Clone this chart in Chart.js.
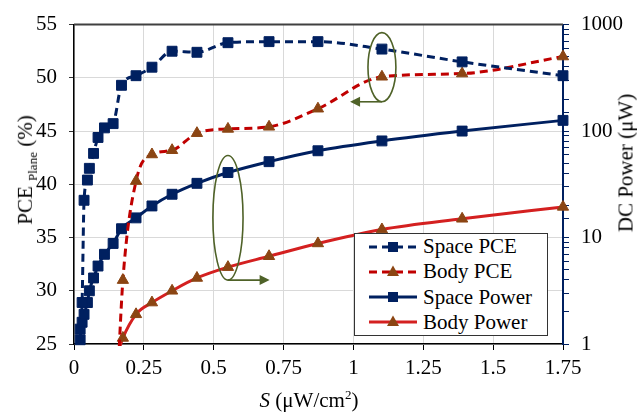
<!DOCTYPE html>
<html lang="en">
<head>
<meta charset="UTF-8">
<title>PCE and DC power versus S</title>
<script src="https://cdn.jsdelivr.net/npm/chart.js"></script>
<style>
  body { margin: 0; background: #fff; }
  .wrap { position: relative; width: 637px; height: 412px; font-family: "Liberation Serif", "Times New Roman", serif; color: #000; }
  canvas { position: absolute; left: 0; top: 0; }
  .title { position: absolute; white-space: nowrap; font-size: 21px; line-height: 1; }
  .rot { transform: translate(-50%, -50%) rotate(-90deg); }
  .legend { position: absolute; left: 354px; top: 233px; width: 192px; height: 101px; border: 1px solid #333; background: #fff; }
  .row { height: 25.25px; display: flex; align-items: center; font-size: 21px; }
  .row svg { margin-left: 14px; margin-right: 6px; }
</style>
</head>
<body>
<div class="wrap">
  <canvas id="myChart" width="637" height="412"></canvas>
  <div class="title rot" style="left:27px; top:170px;">PCE <sub style="font-size:13px">Plane</sub> (%)</div>
  <div class="title rot" style="left:626px; top:163px;">DC Power (μW)</div>
  <div class="title" style="left:309px; top:399px; transform:translate(-50%,-50%);"><i>S</i> (μW/cm<sup style="font-size:13px">2</sup>)</div>
  <div class="legend" id="legend"></div>
</div>

<script>
// S values (µW/cm2)
const sSpace = [0.022, 0.029, 0.036, 0.048, 0.055, 0.070, 0.086, 0.109, 0.140, 0.170, 0.222, 0.279, 0.351, 0.440, 0.551, 0.698, 0.873, 1.102, 1.389, 1.750]
const sBody = [0.155, 0.175, 0.222, 0.279, 0.351, 0.440, 0.551, 0.698, 0.873, 1.102, 1.389, 1.750]

// PCE (%) - left axis
const spacePce = [25.4, 28.9, 38.5, 40.4, 41.5, 42.9, 44.4, 45.3, 45.7, 49.3, 50.2, 51.0, 52.5, 52.4, 53.3, 53.4, 53.4, 52.7, 51.5, 50.2]
const bodyPce = [21.0, 31.0, 40.3, 42.8, 43.2, 44.8, 45.2, 45.4, 47.1, 50.1, 50.4, 52.0]

// DC power (µW) - right axis, log
const spacePower = [1.38, 1.6, 1.9, 2.45, 3.16, 4.17, 5.4, 6.96, 8.8, 12.1, 15.3, 19.8, 25.5, 32.3, 40.8, 51.6, 65.3, 80.8, 100, 126]
const bodyPower = [0.8, 1.14, 1.9, 2.45, 3.16, 4.17, 5.27, 6.67, 8.8, 11.9, 15.0, 19.4]

const powerLabels = [1, 10, 100, 1000]

const NAVY = '#002060'
const RED_DASH = '#C00000'
const RED = '#D42020'
const BROWN = '#8B4513'
const GREEN = '#4F6228'
const FONT = { family: '"Liberation Serif", "Times New Roman", serif', size: 21 }

const pts = (xs, ys) => xs.map((x, i) => ({ x: x, y: ys[i] }))

const common = {
    showLine: true,
    borderWidth: 3,
    cubicInterpolationMode: 'monotone',
    clip: { left: 10, right: 10, top: 10, bottom: 2 }
}

const datasets = [
    { ...common, label: 'Space PCE', data: pts(sSpace, spacePce), yAxisID: 'y',
      borderColor: NAVY, borderDash: [8, 5], pointStyle: 'rect', pointRadius: 7,
      backgroundColor: NAVY, pointBorderColor: NAVY, pointBorderWidth: 1 },
    { ...common, label: 'Body PCE', data: pts(sBody, bodyPce), yAxisID: 'y',
      borderColor: RED_DASH, borderDash: [8, 5], pointStyle: 'triangle', pointRadius: 6.5,
      backgroundColor: BROWN, pointBorderColor: BROWN, pointBorderWidth: 1 },
    { ...common, label: 'Space Power', data: pts(sSpace, spacePower), yAxisID: 'y1',
      borderColor: NAVY, pointStyle: 'rect', pointRadius: 7,
      backgroundColor: NAVY, pointBorderColor: NAVY, pointBorderWidth: 1 },
    { ...common, label: 'Body Power', data: pts(sBody, bodyPower), yAxisID: 'y1',
      borderColor: RED, pointStyle: 'triangle', pointRadius: 6.5,
      backgroundColor: BROWN, pointBorderColor: BROWN, pointBorderWidth: 1 }
]

// green ellipses + arrows, top frame line
const notes = {
    id: 'notes',
    afterDatasetsDraw(chart) {
        const { ctx, chartArea: a, scales: { x, y } } = chart
        ctx.save()
        ctx.strokeStyle = '#404040'
        ctx.lineWidth = 2
        ctx.beginPath()
        ctx.moveTo(a.left, a.top)
        ctx.lineTo(a.right, a.top)
        ctx.stroke()

        const marks = [
            { cx: 1.102, cy: 51.0, rx: 0.05, ry: 3.25, to: 0.988 },
            { cx: 0.551, cy: 36.85, rx: 0.054, ry: 5.85, to: 0.70 }
        ]
        ctx.strokeStyle = GREEN
        ctx.fillStyle = GREEN
        ctx.lineWidth = 1.6
        marks.forEach(m => {
            const px = x.getPixelForValue(m.cx)
            const py = y.getPixelForValue(m.cy)
            const rx = x.getPixelForValue(m.cx + m.rx) - px
            const ry = py - y.getPixelForValue(m.cy + m.ry)
            ctx.beginPath()
            ctx.ellipse(px, py, rx, ry, 0, 0, Math.PI * 2)
            ctx.stroke()
            const by = py + ry
            const tx = x.getPixelForValue(m.to)
            const dir = tx < px ? 1 : -1
            ctx.beginPath()
            ctx.moveTo(px, by)
            ctx.lineTo(tx + dir * 8, by)
            ctx.stroke()
            ctx.beginPath()
            ctx.moveTo(tx, by)
            ctx.lineTo(tx + dir * 10, by - 5)
            ctx.lineTo(tx + dir * 10, by + 5)
            ctx.closePath()
            ctx.fill()
        })
        ctx.restore()
    }
}

const ctx = document.getElementById('myChart').getContext('2d')
const myChart = new Chart(ctx, {
    type: 'scatter',
    data: { datasets: datasets },
    options: {
        responsive: false,
        animation: false,
        layout: { padding: { top: 18, left: 0, right: 0, bottom: 0 } },
        plugins: { legend: { display: false }, tooltip: { enabled: false } },
        scales: {
            x: {
                type: 'linear', min: 0, max: 1.75,
                ticks: { stepSize: 0.25, autoSkip: false, maxRotation: 0, font: FONT, color: '#000', padding: 6,
                         callback: v => String(v) },
                grid: { color: '#d9d9d9', lineWidth: 1, tickColor: '#000', tickLength: 6 },
                border: { color: '#000', width: 1.5 },
                afterFit: s => { s.height = 68 }
            },
            y: {
                position: 'left', min: 25, max: 55,
                ticks: { stepSize: 5, font: FONT, color: '#000', padding: 12 },
                grid: { color: '#d9d9d9', lineWidth: 1, tickColor: '#333', tickLength: 5 },
                border: { color: '#000', width: 1.5 },
                afterFit: s => { s.width = 74 }
            },
            y1: {
                type: 'logarithmic', position: 'right', min: 1, max: 1000,
                ticks: {
                    font: FONT, color: '#000', padding: 12, autoSkip: false,
                    callback: v => powerLabels.includes(v) ? String(v) : ''
                },
                grid: { drawOnChartArea: false, tickColor: NAVY, tickLength: 6 },
                border: { color: NAVY, width: 2 },
                afterFit: s => { s.width = 74 }
            }
        }
    },
    plugins: [notes]
})

// legend
const legend = document.getElementById('legend')
datasets.forEach(d => {
    const row = document.createElement('div')
    row.className = 'row'
    const dash = d.borderDash ? 'stroke-dasharray="8 5"' : ''
    const mark = d.pointStyle === 'rect'
        ? '<rect x="19" y="5" width="10" height="10" fill="' + d.backgroundColor + '"/>'
        : '<polygon points="24,3.5 30,14 18,14" fill="' + d.backgroundColor + '"/>'
    row.innerHTML = '<svg width="48" height="20"><line x1="0" y1="10" x2="48" y2="10" stroke="' +
        d.borderColor + '" stroke-width="3" ' + dash + '/>' + mark + '</svg><span>' + d.label + '</span>'
    legend.appendChild(row)
})
</script>
</body>
</html>
